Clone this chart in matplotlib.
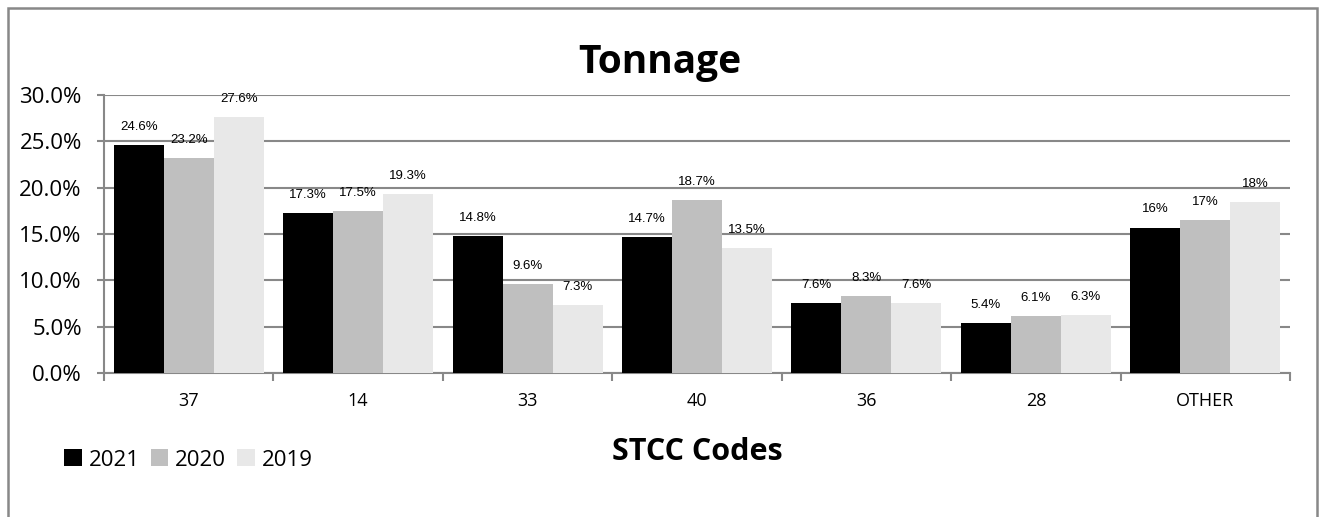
import matplotlib
matplotlib.use("Agg")
import matplotlib.pyplot as plt
import numpy as np
from matplotlib.patches import Rectangle, Patch

categories = ["37", "14", "33", "40", "36", "28", "OTHER"]
years = ["2021", "2020", "2019"]
values_2021 = [24.6, 17.3, 14.8, 14.7, 7.6, 5.4, 15.7]
values_2020 = [23.2, 17.5, 9.6, 18.7, 8.3, 6.1, 16.5]
values_2019 = [27.6, 19.3, 7.3, 13.5, 7.6, 6.3, 18.4]
labels_2021 = ["24.6%", "17.3%", "14.8%", "14.7%", "7.6%", "5.4%", "16%"]
labels_2020 = ["23.2%", "17.5%", "9.6%", "18.7%", "8.3%", "6.1%", "17%"]
labels_2019 = ["27.6%", "19.3%", "7.3%", "13.5%", "7.6%", "6.3%", "18%"]
colors = ["#000000", "#bfbfbf", "#e8e8e8"]
yticks = [0, 5, 10, 15, 20, 25, 30]

series = [values_2021, values_2020, values_2019]
series_labels = [labels_2021, labels_2020, labels_2019]

W, H = 1319, 517
fig = plt.figure(figsize=(W / 100, H / 100), dpi=100)
ax = fig.add_axes([104 / W, 1 - 373 / H, (1290 - 104) / W, (373 - 95) / H])

x = np.arange(len(categories))
bw = 0.295
for i, (vals, labs) in enumerate(zip(series, series_labels)):
    pos = x + (i - 1) * bw
    ax.bar(pos, vals, width=bw, color=colors[i], zorder=3, label=years[i])
    for p, v, t in zip(pos, vals, labs):
        ax.text(p, v + 1.3, t, ha="center", va="bottom", fontsize=9.5,
                family=["Liberation Sans", "DejaVu Sans"], zorder=4)

ax.set_xlim(-0.5, len(categories) - 0.5)
ax.set_ylim(0, 30)
ax.set_yticks(yticks)
ax.set_yticklabels([f"{v:.1f}%" for v in yticks], family="Open Sans", fontsize=16)
ax.set_xticks(x)
ax.set_xticklabels(categories, family="Open Sans", fontsize=13)
ax.set_xticks(np.arange(len(categories) + 1) - 0.5, minor=True)
ax.tick_params(axis="x", which="major", length=0, pad=14)
ax.tick_params(axis="x", which="minor", length=6, width=1.5, color="#888888", direction="out")
ax.tick_params(axis="y", length=5, width=1.5, color="#888888", direction="out", pad=11)

ax.yaxis.grid(True, color="#888888", linewidth=1.5, zorder=0)
for side in ["top", "right"]:
    ax.spines[side].set_visible(False)
for side in ["left", "bottom"]:
    ax.spines[side].set_color("#888888")
    ax.spines[side].set_linewidth(1.5)

fig.text(0.5, 1 - 62 / H, "Tonnage", ha="center", va="center",
         fontsize=28, fontweight="bold", family="Open Sans")
fig.text(0.5 * (104 + 1290) / W, 1 - 452 / H, "STCC Codes", ha="center", va="center",
         fontsize=22, fontweight="bold", family="Open Sans")

handles = [Patch(facecolor=c, edgecolor="none") for c in colors]
fig.legend(handles, years, loc="center left", bbox_to_anchor=(64 / W, 1 - 460 / H),
           ncol=3, frameon=False, handlelength=0.8, handleheight=0.8,
           handletextpad=0.3, columnspacing=0.5, borderaxespad=0, borderpad=0,
           prop={"family": "Open Sans", "size": 16})

# outer chart frame
fig.patches.append(Rectangle((8 / W, -0.05), (1317 - 8) / W, (1 - 8 / H) + 0.05,
                             transform=fig.transFigure, fill=False,
                             edgecolor="#888888", linewidth=1.8))

fig.savefig("out.png", dpi=100)
